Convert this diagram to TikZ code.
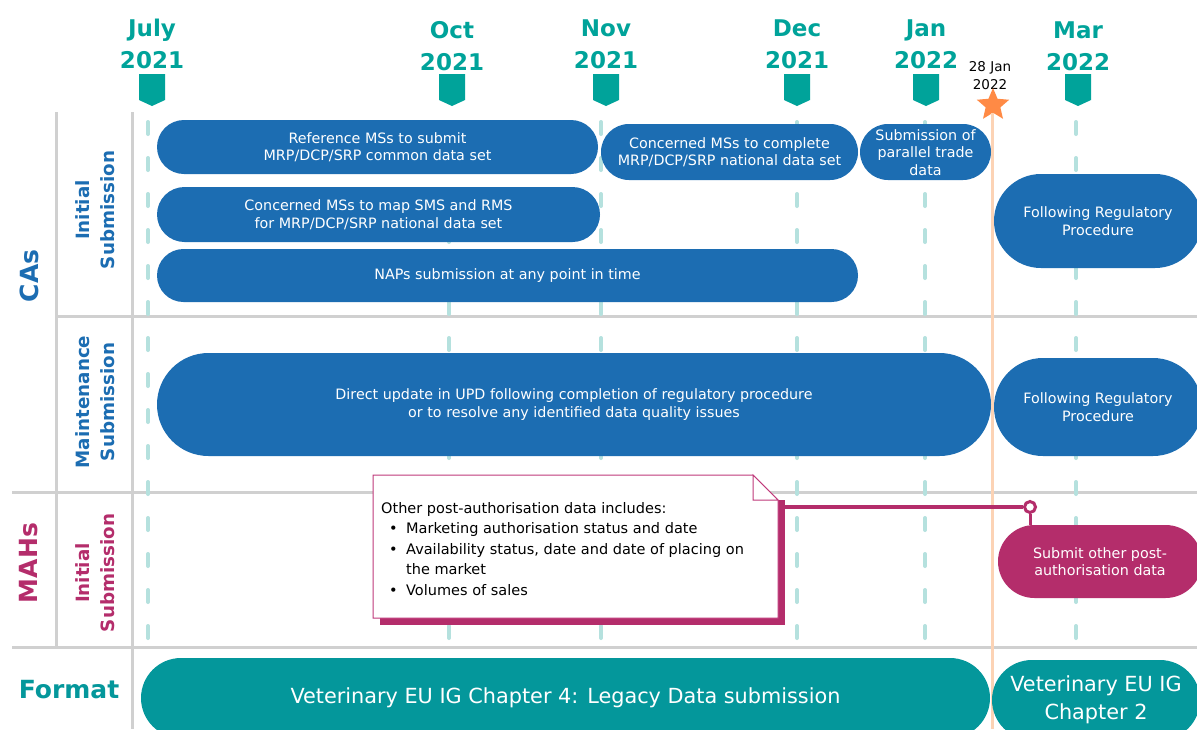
\documentclass[tikz,border=0pt]{standalone}
\usepackage{fontspec}
\setmainfont{DejaVu Sans}
\usetikzlibrary{shapes.geometric}
\definecolor{cablue}{HTML}{1C6DB2}
\definecolor{teal}{HTML}{00A39A}
\definecolor{fteal}{HTML}{04979B}
\definecolor{mag}{HTML}{B42D6B}
\definecolor{magl}{HTML}{C0397A}
\definecolor{dteal}{HTML}{B5E1DE}
\definecolor{gline}{HTML}{D0D0D0}
\definecolor{starc}{HTML}{FF8A45}
\definecolor{oline}{HTML}{FCD3B5}
\tikzset{
  pill/.style={rectangle, fill=cablue, text=white, align=center, inner sep=0pt,
    font=\fontsize{14.3}{17.5}\selectfont},
  mpill/.style={pill, fill=mag},
  fpill/.style={pill, fill=fteal, font=\fontsize{20.8}{28}\selectfont},
  month/.style={text=teal, align=center, font=\bfseries\fontsize{23}{32}\selectfont},
  rowlab/.style={rotate=90, align=center, font=\bfseries\fontsize{18.3}{25}\selectfont},
  grplab/.style={font=\bfseries\fontsize{25}{28}\selectfont},
  grid/.style={draw=gline, line width=3pt},
  dashl/.style={draw=dteal, line width=4pt, line cap=round, dash pattern=on 12pt off 24pt},
}
\begin{document}
\begin{tikzpicture}[x=1pt,y=-1pt]
\useasboundingbox (0,0) rectangle (1197,729);
\begin{scope}
\clip (0,0) rectangle (1197,729);
\fill[white] (0,0) rectangle (1197,729);
% grid lines
\draw[grid] (56,112) -- (56,647);
\draw[grid] (132,112) -- (132,729);
\draw[grid] (56,316) -- (1197,316);
\draw[grid] (12,492) -- (1197,492);
\draw[grid] (12,647) -- (1197,647);
% month dashed lines
\foreach \x in {148,449,601,797,925,1076}{
  \draw[dashl] (\x,122) -- (\x,640);
}
% month labels and markers
\foreach \x/\y/\m/\yr/\nm in {152/44/July/2021/mjul,452/46/Oct/2021/moct,606/44/Nov/2021/mnov,797/44/Dec/2021/mdec,926/44/Jan/2022/mjan,1078/46/Mar/2022/mmar}{
  \node[month] (\nm) at (\x,\y) {\m\\\yr};
  \fill[teal] (\x-13,74) -- (\x+13,74) -- (\x+13,100) -- (\x,106) -- (\x-13,100) -- cycle;
}
% 28 Jan marker
\node[align=center, font=\fontsize{13.5}{18}\selectfont] (d28) at (990,76) {28 Jan\\2022};
\node[star, star points=5, star point ratio=2.2, fill=starc, minimum size=34pt, inner sep=0pt] (star) at (993,105) {};
\coordinate (obot) at (992,729);
\draw[oline, line width=3pt] (star.south) ++(-1,0) -- (obot);
% left labels
\node[grplab, rotate=90, text=cablue] (cas) at (29,276) {CAs};
\node[rowlab, text=cablue] (ini1) at (95,210) {Initial\\Submission};
\node[rowlab, text=cablue] (mnt) at (95,402) {Maintenance\\Submission};
\node[grplab, rotate=90, text=mag] (mahs) at (29,563) {MAHs};
\node[rowlab, text=mag] (ini2) at (95,573) {Initial\\Submission};
\node[grplab, text=fteal] (fmt) at (69,690) {Format};
% CA pills
\node[pill, minimum width=441pt, minimum height=54pt, rounded corners=27pt] (p1) at (377.5,147) {Reference MSs to submit\\MRP/DCP/SRP common data set};
\node[pill, minimum width=257pt, minimum height=56pt, rounded corners=28pt] (p2) at (729.5,152) {Concerned MSs to complete\\MRP/DCP/SRP national data set};
\node[pill, minimum width=131pt, minimum height=56pt, rounded corners=28pt] (p3) at (925.5,152) {\rule{0pt}{12pt}Submission of\\parallel trade\\data};
\node[pill, minimum width=443pt, minimum height=55pt, rounded corners=27.5pt] (p4) at (378.5,214.5) {Concerned MSs to map SMS and RMS\\for MRP/DCP/SRP national data set};
\node[pill, minimum width=701pt, minimum height=53pt, rounded corners=26.5pt] (p5) at (507.5,275.5) {NAPs submission at any point in time};
\node[pill, minimum width=208pt, minimum height=94pt, rounded corners=47pt] (p6) at (1098,221) {Following Regulatory\\Procedure};
\node[pill, minimum width=834pt, minimum height=103pt, rounded corners=51.5pt] (p7) at (574,404.5) {Direct update in UPD following completion of regulatory procedure\\or to resolve any identified data quality issues};
\node[pill, minimum width=208pt, minimum height=98pt, rounded corners=49pt] (p8) at (1098,407) {Following Regulatory\\Procedure};
% MAH pill
\node[mpill, minimum width=204pt, minimum height=73pt, rounded corners=36.5pt] (p9) at (1100,561.5) {Submit other post-\\authorisation data};
% Format pills
\node[fpill, minimum width=849pt, minimum height=80pt, rounded corners=40pt] (p10) at (565.5,698) {Veterinary EU IG Chapter 4: Legacy Data submission};
\node[fpill, minimum width=208pt, minimum height=80pt, rounded corners=40pt] (p11) at (1096,700) {Veterinary EU IG\\Chapter 2};
% note box
\fill[mag] (380,500) rectangle (785,625);
\draw[magl, line width=1pt, fill=white] (373,475) -- (753,475) -- (778,500) -- (778,618) -- (373,618) -- cycle;
\draw[magl, line width=1pt, fill=white] (753,475) -- (753,500) -- (778,500) -- cycle;
\node[anchor=north west, align=left, inner sep=0pt, font=\fontsize{14.5}{20.5}\selectfont] (note) at (381,502) {Other post-authorisation data includes:\\
\hspace*{8pt}\makebox[17pt][l]{\textbullet}Marketing authorisation status and date\\
\hspace*{8pt}\makebox[17pt][l]{\textbullet}Availability status, date and date of placing on\\
\hspace*{25pt}the market\\
\hspace*{8pt}\makebox[17pt][l]{\textbullet}Volumes of sales};
% connector
\coordinate (ncorner) at (782,507);
\node[circle, draw=mag, line width=3pt, fill=white, minimum size=11pt, inner sep=0pt] (knob) at (1030,507) {};
\draw[mag, line width=3.5pt] (ncorner) -- (knob.west);
\draw[mag, line width=3pt] (knob.south) -- (knob.south |- p9.north);
\end{scope}
\end{tikzpicture}
\end{document}
